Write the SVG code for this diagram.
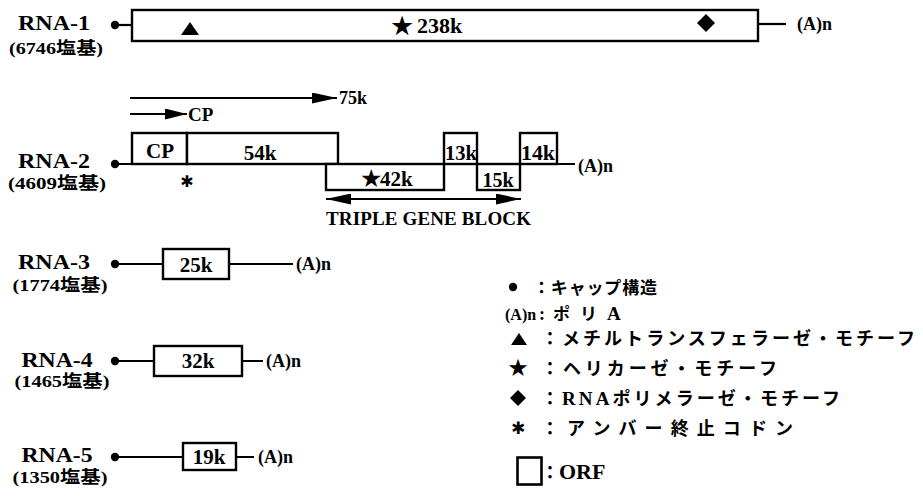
<svg xmlns="http://www.w3.org/2000/svg" width="923" height="496" viewBox="0 0 923 496">
<style>
.ln{stroke:#000;stroke-width:2.2;fill:none}
.bx{stroke:#000;stroke-width:2.4;fill:#fff}
.lbl{font-family:"Liberation Serif","Noto Sans CJK JP",serif;font-weight:bold;font-size:22px;fill:#000}
.sub{font-family:"Liberation Serif","Noto Sans CJK JP",serif;font-weight:bold;font-size:17px;fill:#000}
.t{font-family:"Liberation Serif","Noto Sans CJK JP",serif;font-weight:bold;font-size:21px;fill:#000}
.an{font-family:"Liberation Serif",serif;font-weight:bold;font-size:18px;fill:#000}
.jp{font-family:"Noto Sans CJK JP",sans-serif;font-weight:bold;font-size:18px;fill:#000}
.sym{font-family:"DejaVu Sans",sans-serif;fill:#000}
.c{text-anchor:middle}
</style>
<defs>
<marker id="ah" markerUnits="userSpaceOnUse" markerWidth="25" markerHeight="11" refX="25" refY="5.5" orient="auto-start-reverse">
<path d="M0,0 L25,5.5 L0,11 Z" fill="#000"/>
</marker>
<marker id="ah2" markerUnits="userSpaceOnUse" markerWidth="22" markerHeight="11" refX="22" refY="5.5" orient="auto">
<path d="M0,0 L22,5.5 L0,11 Z" fill="#000"/>
</marker>
</defs>
<rect width="923" height="496" fill="#fff"/>

<g id="rna1">
<text class="lbl c" x="54" y="30" textLength="72" lengthAdjust="spacingAndGlyphs">RNA-1</text>
<text class="sub c" x="56" y="54" textLength="94" lengthAdjust="spacingAndGlyphs">(6746塩基)</text>
<line class="ln" x1="115" y1="25" x2="132" y2="25"/>
<circle cx="115" cy="25" r="4.2" fill="#000"/>
<rect class="bx" x="132" y="10" width="626" height="31"/>
<polygon points="181,35 199,35 190,22" fill="#000"/>
<text class="t" x="390" y="35"><tspan class="sym" style="font-size:27px">★</tspan><tspan x="417" y="33" style="font-size:22px">238k</tspan></text>
<polygon points="697,23 706,14 715,23 706,32" fill="#000"/>
<line class="ln" x1="758" y1="24" x2="786" y2="24"/>
<text class="an" x="797" y="30">(A)n</text>
</g>

<g id="rna2">
<line class="ln" x1="130" y1="98" x2="337" y2="98" marker-end="url(#ah)" stroke-width="2.8"/>
<text class="an" x="339" y="104">75k</text>
<line class="ln" x1="130" y1="114" x2="187" y2="114" marker-end="url(#ah2)" stroke-width="2.8"/>
<text class="an" x="188" y="121" style="font-size:19px">CP</text>
<text class="lbl c" x="54" y="168" textLength="72" lengthAdjust="spacingAndGlyphs">RNA-2</text>
<text class="sub c" x="57" y="189" textLength="98" lengthAdjust="spacingAndGlyphs">(4609塩基)</text>
<rect class="bx" x="132" y="133" width="55" height="31"/>
<rect class="bx" x="187" y="133" width="151" height="31"/>
<rect class="bx" x="326" y="164" width="118" height="26"/>
<rect class="bx" x="444" y="133" width="33" height="31"/>
<rect class="bx" x="477" y="164" width="43" height="26"/>
<rect class="bx" x="520" y="133" width="37" height="31"/>
<line class="ln" x1="115" y1="164" x2="575" y2="164"/>
<circle cx="115" cy="164" r="4.2" fill="#000"/>
<text class="t c" x="160" y="158">CP</text>
<text class="t c" x="260" y="160">54k</text>
<text class="t" x="360" y="187"><tspan class="sym" style="font-size:25px">★</tspan><tspan x="380" y="186">42k</tspan></text>
<text class="t c" x="461" y="160" style="font-size:20px" textLength="32" lengthAdjust="spacingAndGlyphs">13k</text>
<text class="t c" x="498" y="187" style="font-size:20px">15k</text>
<text class="t c" x="538" y="160" style="font-size:20px" textLength="34" lengthAdjust="spacingAndGlyphs">14k</text>
<text class="sym c" x="187" y="187" style="font-size:16px">✱</text>
<text class="an" x="578" y="172">(A)n</text>
<line class="ln" x1="326" y1="199" x2="521" y2="199" marker-start="url(#ah)" marker-end="url(#ah)" stroke-width="2.8"/>
<text class="an" x="326" y="225" style="font-size:19px" textLength="205">TRIPLE GENE BLOCK</text>
</g>

<g id="rna3">
<text class="lbl c" x="54" y="269" textLength="72" lengthAdjust="spacingAndGlyphs">RNA-3</text>
<text class="sub c" x="60" y="291" textLength="95" lengthAdjust="spacingAndGlyphs">(1774塩基)</text>
<line class="ln" x1="115" y1="264" x2="293" y2="264"/>
<circle cx="115" cy="264" r="4.2" fill="#000"/>
<rect class="bx" x="163" y="249" width="66" height="30"/>
<text class="t c" x="196" y="272">25k</text>
<text class="an" x="296" y="270">(A)n</text>
</g>

<g id="rna4">
<text class="lbl c" x="57" y="367" textLength="71" lengthAdjust="spacingAndGlyphs">RNA-4</text>
<text class="sub c" x="62" y="387" textLength="95" lengthAdjust="spacingAndGlyphs">(1465塩基)</text>
<line class="ln" x1="115" y1="361" x2="263" y2="361"/>
<circle cx="115" cy="361" r="4.2" fill="#000"/>
<rect class="bx" x="154" y="346" width="88" height="30"/>
<text class="t c" x="198" y="368">32k</text>
<text class="an" x="266" y="367">(A)n</text>
</g>

<g id="rna5">
<text class="lbl c" x="57" y="462" textLength="71" lengthAdjust="spacingAndGlyphs">RNA-5</text>
<text class="sub c" x="60" y="483" textLength="95" lengthAdjust="spacingAndGlyphs">(1350塩基)</text>
<line class="ln" x1="115" y1="457" x2="254" y2="457"/>
<circle cx="115" cy="457" r="4.2" fill="#000"/>
<rect class="bx" x="183" y="443" width="53" height="27"/>
<text class="t c" x="209" y="464">19k</text>
<text class="an" x="258" y="463">(A)n</text>
</g>

<g id="legend">
<circle cx="513" cy="287" r="4.2" fill="#000"/>
<text class="jp" x="533" y="294" style="font-size:17px" textLength="124">：キャップ構造</text>
<text class="an" x="505" y="320" style="font-size:16px">(A)n<tspan x="539" style="font-size:18px">:</tspan><tspan class="jp" x="553" style="font-size:17px">ポ</tspan><tspan class="jp" x="580" style="font-size:17px">リ</tspan><tspan class="an" x="607" style="font-size:19px">A</tspan></text>
<polygon points="511,345 527,345 519,333" fill="#000"/>
<text class="jp" x="541" y="345" textLength="374">：メチルトランスフェラーゼ・モチーフ</text>
<text class="sym c" x="518" y="376" style="font-size:24px">★</text>
<text class="jp" x="541" y="375" textLength="236">：ヘリカーゼ・モチーフ</text>
<polygon points="510,398 518,390 526,398 518,406" fill="#000"/>
<text class="jp" x="541" y="405" textLength="299">：<tspan class="an" style="font-size:19px">RNA</tspan>ポリメラーゼ・モチーフ</text>
<text class="sym c" x="518" y="434" style="font-size:17px">✱</text>
<text class="jp" x="541" y="435" textLength="252">：アンバー終止コドン</text>
<rect x="517.5" y="457.5" width="24" height="27" fill="#fff" stroke="#000" stroke-width="2.6"/>
<text class="jp" x="541" y="479">：<tspan class="an" x="559" style="font-size:22px">ORF</tspan></text>
</g>
</svg>
